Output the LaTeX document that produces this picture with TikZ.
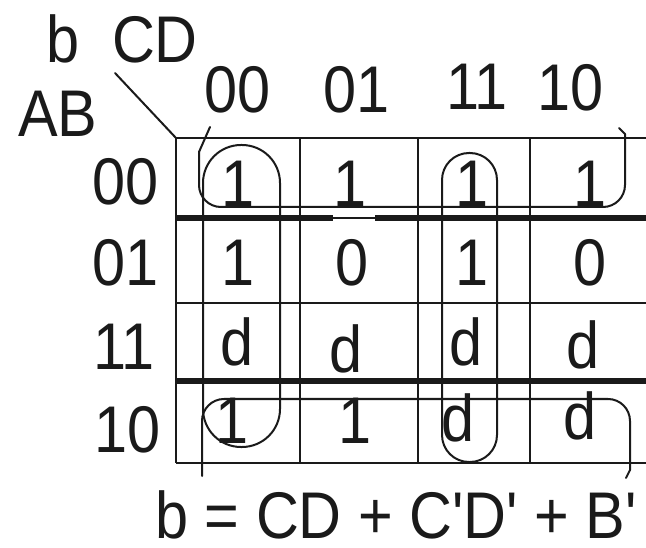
\documentclass[tikz,border=0pt]{standalone}
\usepackage{fontspec}
\usetikzlibrary{positioning, calc}
\newfontfamily\kfont[FakeStretch=0.9, Ligatures=TeXOff]{Liberation Sans}
\definecolor{inkblack}{HTML}{1A1A1A}

\begin{document}
\begin{tikzpicture}[
    x=1pt, y=-1pt,
    lbl/.style={font=\kfont\fontsize{66}{66}\selectfont, text=inkblack,
                inner sep=0pt, text height=47pt, text depth=0pt},
    gridline/.style={draw=inkblack, line width=2.4pt},
    sepline/.style={draw=inkblack, line width=5.5pt},
    grp/.style={draw=inkblack, line width=2pt, line cap=round},
  ]

  % ── Frame ──
  \useasboundingbox (0,0) rectangle (646,548);
  \fill[white] (0,0) rectangle (646,548);

  % ── Corner labels ──
  \node[lbl] (fname) at (63,39) {b};
  \node[lbl] (cdvar) at (155,39) {CD};
  \node[lbl] (abvar) at (58,113) {AB};
  \coordinate (corner) at (176,138);
  \draw[grp] (115,73) -- (corner);

  % ── Column headers ──
  \node[lbl] (c00) at (238,89) {00};
  \node[lbl] (c01) at (357,89) {01};
  \node[lbl] (c11) at (477,86) {11};
  \node[lbl] (c10) at (571,87) {10};

  % ── Row headers ──
  \node[lbl] (r00) at (126,181) {00};
  \node[lbl] (r01) at (126,262) {01};
  \node[lbl] (r11) at (124,346) {11};
  \node[lbl] (r10) at (128,429) {10};

  % ── Grid ──
  \foreach \y in {138,218,303,381,463}
    \draw[gridline] (176,\y) -- (646,\y);
  \foreach \x in {176,300,418,530}
    \draw[gridline] (\x,138) -- (\x,463);
  \draw[sepline] (176,218) -- (333,218);
  \draw[sepline] (375,218) -- (646,218);
  \draw[sepline] (176,381) -- (646,381);

  % ── Cell values ──
  \node[lbl] (m0) at (238,183) {1};
  \node[lbl] (m1) at (350,183) {1};
  \node[lbl] (m3) at (472,183) {1};
  \node[lbl] (m2) at (590,183) {1};

  \node[lbl] (m4) at (238,262) {1};
  \node[lbl] (m5) at (352,262) {0};
  \node[lbl] (m7) at (472,262) {1};
  \node[lbl] (m6) at (590,262) {0};

  \node[lbl] (m12) at (237,342) {d};
  \node[lbl] (m13) at (346,349) {d};
  \node[lbl] (m15) at (466,342) {d};
  \node[lbl] (m14) at (583,345) {d};

  \node[lbl] (m8) at (232,420) {1};
  \node[lbl] (m9) at (355,420) {1};
  \node[lbl] (m11) at (458,418) {d};
  \node[lbl] (m10) at (580,416) {d};

  % ── Groups ──
  % C'D'
  \draw[grp, rounded corners=38] (203,145) rectangle (280,447);
  % CD
  \draw[grp, rounded corners=27] (442,153) rectangle (497,462);
  % B' (wraps top and bottom)
  \draw[grp, rounded corners=22] (199,152) -- (199,207) -- (625,207) -- (625,134);
  \draw[grp] (199,152) -- (210,127);
  \draw[grp] (625,134) -- (619,128);
  \draw[grp, rounded corners=22] (202,476) -- (202,399) -- (630,399) -- (630,470);
  \draw[grp] (630,470) -- (626,478);

  % ── Result ──
  \node[lbl] (result) at (396,515) {b = CD + C'D' + B'};

\end{tikzpicture}
\end{document}
